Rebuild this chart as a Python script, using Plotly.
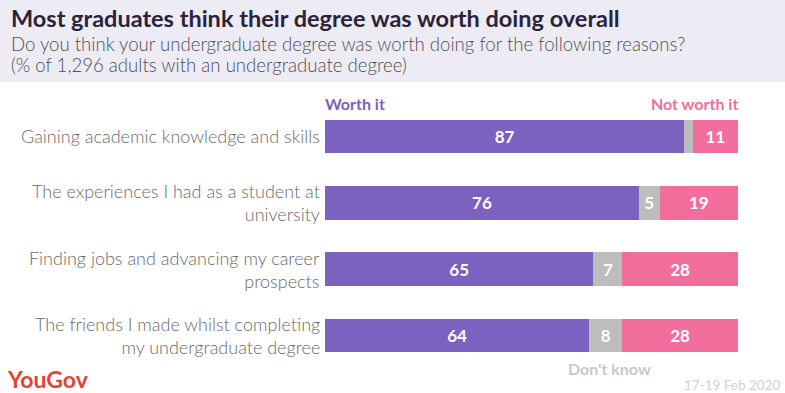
import plotly.graph_objects as go

categories = [
    "Gaining academic knowledge and skills",
    "The experiences I had as a student at<br>university",
    "Finding jobs and advancing my career<br>prospects",
    "The friends I made whilst completing<br>my undergraduate degree",
]
worth_it = [87, 76, 65, 64]
dont_know = [2, 5, 7, 8]
not_worth = [11, 19, 28, 28]

W, H = 785, 393
PURPLE = "#7B61C0"
GREY = "#BDBDBD"
PINK = "#F26E9D"
FONT = "Lato"

x0, x1 = 325 / W, 738 / W
top_px, bot_px = 103.3, 368.7
ydom = [1 - bot_px / H, 1 - top_px / H]

ypos = list(range(len(categories)))

def lbl(vals, minv=4):
    return [str(v) if v >= minv else "" for v in vals]

fig = go.Figure()
for name, vals, col in [("Worth it", worth_it, PURPLE), ("Don't know", dont_know, GREY), ("Not worth it", not_worth, PINK)]:
    fig.add_trace(go.Bar(
        y=ypos, x=vals, orientation="h", name=name,
        marker=dict(color=col, line=dict(width=0)),
        width=0.505,
        text=lbl(vals), textposition="inside", insidetextanchor="middle",
        textfont=dict(family=FONT, size=17, color="white", weight="bold"),
        cliponaxis=False, hoverinfo="skip",
    ))

fig.update_layout(
    barmode="stack",
    width=W, height=H,
    margin=dict(l=0, r=0, t=0, b=0),
    paper_bgcolor="white", plot_bgcolor="white",
    showlegend=False,
    uniformtext=dict(mode="show", minsize=10),
    xaxis=dict(domain=[x0, x1], range=[0, 100], visible=False, fixedrange=True),
    yaxis=dict(domain=ydom, range=[3.5, -0.5], visible=False, fixedrange=True),
    font=dict(family=FONT),
)

fig.add_shape(type="rect", xref="paper", yref="paper", x0=0, x1=1, y0=1 - 82 / H, y1=1,
              fillcolor="#EDEBF4", line=dict(width=0), layer="below")

ann = []
ann.append(dict(x=9 / W, y=1 - 18 / H, xref="paper", yref="paper", xanchor="left", yanchor="middle",
                text="<b>Most graduates think their degree was worth doing overall</b>",
                font=dict(family=FONT, size=23.5, color="#2B2438"), showarrow=False))
ann.append(dict(x=9 / W, y=1 - 44 / H, xref="paper", yref="paper", xanchor="left", yanchor="middle",
                text="Do you think your undergraduate degree was worth doing for the following reasons?",
                font=dict(family=FONT, size=18.6, color="#505050", weight=300), showarrow=False))
ann.append(dict(x=9 / W, y=1 - 65 / H, xref="paper", yref="paper", xanchor="left", yanchor="middle",
                text="(% of 1,296 adults with an undergraduate degree)",
                font=dict(family=FONT, size=18.6, color="#505050", weight=300), showarrow=False))
for i, c in enumerate(categories):
    ann.append(dict(x=322 / W, y=i, xref="paper", yref="y", xanchor="right", yanchor="middle", align="right",
                    text=c, font=dict(family=FONT, size=18, color="#6A6A6A", weight=300), showarrow=False))
ann.append(dict(x=0, y=1 - 104 / H, xref="x", yref="paper", xanchor="left", yanchor="middle",
                text="<b>Worth it</b>", font=dict(family=FONT, size=16, color=PURPLE), showarrow=False, xshift=-2))
ann.append(dict(x=100, y=1 - 104 / H, xref="x", yref="paper", xanchor="right", yanchor="middle",
                text="<b>Not worth it</b>", font=dict(family=FONT, size=16, color=PINK), showarrow=False, xshift=2))
ann.append(dict(x=609 / W, y=1 - 368 / H, xref="paper", yref="paper", xanchor="center", yanchor="middle",
                text="<b>Don't know</b>", font=dict(family=FONT, size=16, color="#C8C8C8"), showarrow=False))
ann.append(dict(x=5 / W, y=1 - 379 / H, xref="paper", yref="paper", xanchor="left", yanchor="middle",
                text="<b>YouGov</b>", font=dict(family=FONT, size=23, color="#E2442F"), showarrow=False))
ann.append(dict(x=782 / W, y=1 - 385 / H, xref="paper", yref="paper", xanchor="right", yanchor="middle",
                text="17-19 Feb 2020", font=dict(family=FONT, size=13.5, color="#D2D2D2"), showarrow=False))
fig.update_layout(annotations=ann)

html = fig.to_html(full_html=True, include_plotlyjs=True, config={"displayModeBar": False, "staticPlot": True})
html = html.replace("<head>", "<head><style>html,body{margin:0;padding:0;overflow:hidden;}</style>", 1)
with open("out.html", "w", encoding="utf-8") as f:
    f.write(html)
